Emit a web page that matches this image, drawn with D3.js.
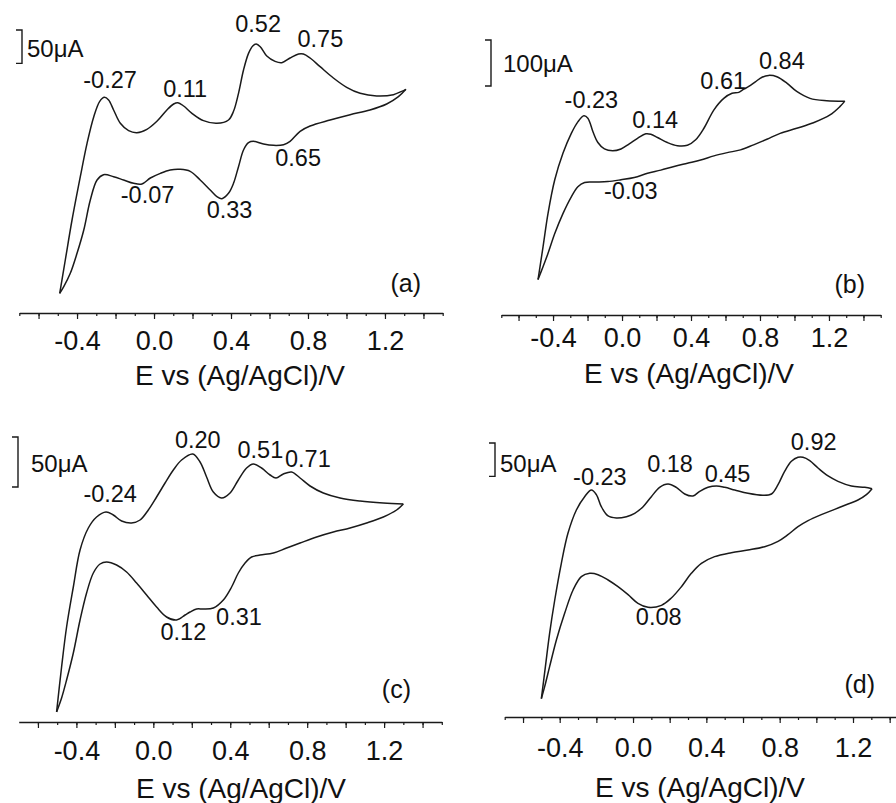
<!DOCTYPE html>
<html>
<head>
<meta charset="utf-8">
<script src="https://cdn.jsdelivr.net/npm/d3@7"></script>
<style>
  body { margin: 0; background: #fff; }
  svg { display: block; font-family: "Liberation Sans", Arial, sans-serif; }
  .cv { fill: none; stroke: #1a1a1a; stroke-width: 1.5; }
  .axis path, .axis line { stroke: #1a1a1a; }
  .axis path { stroke-width: 1.5; }
  .axis line { stroke-width: 1.2; }
  .axis text { font-size: 27px; fill: #111; }
  .lbl { fill: #111; }
</style>
</head>
<body>
<svg id="myGraph" width="896" height="803"></svg>
<script>
// 데이터: 전위(V) / 전류(µA), 정방향(anodic) 과 역방향(cathodic)
var aFwdE = [-0.490,-0.461,-0.426,-0.383,-0.348,-0.313,-0.282,-0.258,-0.236,-0.210,-0.175,-0.132,-0.089,-0.037,0.015,0.067,0.102,0.124,0.154,0.197,0.257,0.327,0.387,0.413,0.439,0.465,0.491,0.513,0.531,0.552,0.586,0.629,0.664,0.707,0.751,0.776,0.811,0.863,0.932,1.001,1.071,1.157,1.244,1.287,1.309];
var aFwdI = [-140,-90,-30,35,85,125,148,154,150,135,115,104,101,106,118,135,144,146,141,130,119,115,120,133,160,195,220,231,234,230,216,208,206,213,219,219,213,200,183,169,160,156,158,163,166];
var aRevE = [1.309,1.270,1.209,1.122,1.019,0.915,0.811,0.759,0.707,0.673,0.621,0.569,0.517,0.491,0.465,0.439,0.413,0.387,0.353,0.327,0.292,0.240,0.188,0.136,0.084,0.033,-0.019,-0.063,-0.106,-0.158,-0.210,-0.262,-0.296,-0.331,-0.365,-0.400,-0.435,-0.469,-0.490];
var aRevI = [166,155,144,135,128,120,111,103,88,83,82,84,88,86,75,50,25,10,2,5,15,30,43,46,45,40,33,24,25,30,35,38,30,0,-45,-80,-110,-130,-140];

var bFwdE = [-0.487,-0.458,-0.429,-0.390,-0.342,-0.294,-0.256,-0.221,-0.198,-0.169,-0.140,-0.102,-0.054,-0.006,0.042,0.090,0.138,0.167,0.206,0.263,0.321,0.379,0.427,0.475,0.533,0.590,0.638,0.677,0.706,0.735,0.773,0.812,0.850,0.898,0.956,1.013,1.090,1.187,1.292];
var bFwdI = [-173,-102,-29,44,102,145,170,183,178,149,125,111,107,111,122,134,144,143,136,125,118,119,131,156,196,221,232,234,241,247,257,267,271,268,254,236,221,216,215];
var bRevE = [1.292,1.263,1.206,1.110,1.013,0.917,0.840,0.763,0.687,0.610,0.533,0.456,0.379,0.302,0.225,0.148,0.071,-0.006,-0.083,-0.160,-0.217,-0.256,-0.294,-0.342,-0.390,-0.429,-0.458,-0.487];
var bRevI = [215,203,185,168,156,145,132,120,109,103,96,87,80,73,65,58,49,44,40,39,38,29,7,-29,-73,-116,-145,-173];

var cFwdE = [-0.503,-0.477,-0.451,-0.416,-0.381,-0.338,-0.295,-0.246,-0.208,-0.165,-0.113,-0.069,-0.026,0.017,0.061,0.104,0.147,0.205,0.243,0.277,0.312,0.355,0.399,0.442,0.485,0.520,0.563,0.607,0.638,0.676,0.719,0.763,0.815,0.884,0.971,1.075,1.196,1.300];
var cFwdI = [-112,-67,-27,13,50,72,83,88,85,79,77,80,90,103,117,130,140,146,138,123,108,102,107,120,132,136,132,125,122,126,128,122,114,107,102,99,97,96];
var cRevE = [1.300,1.265,1.196,1.109,1.023,0.936,0.849,0.763,0.693,0.624,0.555,0.511,0.477,0.442,0.407,0.364,0.312,0.260,0.225,0.191,0.165,0.121,0.069,0.017,-0.035,-0.087,-0.139,-0.191,-0.243,-0.277,-0.312,-0.347,-0.381,-0.416,-0.451,-0.477,-0.503];
var cRevI = [96,90,83,77,72,68,63,57,52,47,45,43,37,27,13,0,-8,-9,-9,-12,-15,-20,-17,-7,5,17,28,35,38,36,27,7,-20,-53,-80,-98,-112];

var dFwdE = [-0.500,-0.478,-0.455,-0.427,-0.391,-0.355,-0.309,-0.264,-0.227,-0.200,-0.173,-0.136,-0.091,-0.036,0.009,0.055,0.100,0.145,0.191,0.236,0.282,0.327,0.364,0.409,0.455,0.500,0.555,0.627,0.709,0.755,0.791,0.827,0.864,0.900,0.927,0.964,1.009,1.064,1.118,1.191,1.264,1.304];
var dFwdI = [-148,-100,-50,0,55,100,135,155,165,158,140,126,123,125,130,140,155,169,174,169,159,156,163,169,171,169,165,160,157,159,173,193,208,214,214,209,198,186,178,171,169,167];
var dRevE = [1.304,1.273,1.227,1.173,1.100,1.027,0.955,0.900,0.845,0.791,0.718,0.627,0.536,0.445,0.373,0.318,0.264,0.209,0.155,0.082,0.027,-0.027,-0.082,-0.136,-0.191,-0.236,-0.282,-0.327,-0.373,-0.418,-0.455,-0.482,-0.500];
var dRevI = [167,158,150,144,136,128,119,110,98,88,80,75,71,65,55,40,20,3,-8,-11,-5,8,20,30,38,40,35,15,-20,-60,-100,-130,-148];

// 피크 전위와 그 위치의 전류
var aPeakE = [-0.27, 0.11, 0.52, 0.75, 0.65, -0.07, 0.33];
var aPeakI = [154, 146, 234, 219, 82, 24, 2];
var bPeakE = [-0.23, 0.14, 0.61, 0.84, -0.03];
var bPeakI = [183, 144, 232, 271, 43];
var cPeakE = [-0.24, 0.20, 0.51, 0.71, 0.12, 0.31];
var cPeakI = [88, 146, 136, 128, -20, -8];
var dPeakE = [-0.23, 0.18, 0.45, 0.92, 0.08];
var dPeakI = [165, 174, 171, 214, -11];

var panelNames = ["(a)", "(b)", "(c)", "(d)"];
var scaleBars = [50, 100, 50, 50];          // µA
var xTickLabels = [-0.4, 0.0, 0.4, 0.8, 1.2];
var xTitle = "E vs (Ag/AgCl)/V";

// 패널 레이아웃 (픽셀)
var layout = [
  { ox: 0,   oy: 0,   xr: [19.3, 442.7], yd: [-150, 250], yr: [300, 33.33], axisY: 313, tickBase: 37,
    title: [240, 385], letter: [421, 292], bar: [22, 30], barText: [27, 57], tickFrom: -0.7,
    off: [[8,-9],[10,-6],[4,-12],[22,-7],[19,21],[7,19],[12,19]] },
  { ox: 448, oy: 0,  xr: [53.3, 432.7], yd: [-200, 300], yr: [291.96, 62.06], axisY: 315, tickBase: 32,
    title: [241, 383], letter: [417, 293], bar: [43, 40], barText: [55, 72], tickFrom: -0.7,
    off: [[9,-8],[9,-6],[-4,-4],[15,-6],[14,19]] },
  { ox: 0,   oy: 400, xr: [18.7, 441.8], yd: [-150, 200], yr: [350, 0], axisY: 322, tickBase: 38,
    title: [241, 398], letter: [411, 298], bar: [18, 37], barText: [31, 72], tickFrom: -0.6,
    off: [[3,-10],[6,-6],[9,-6],[18,-5],[7,20],[26,17]] },
  { ox: 448, oy: 400, xr: [56.7, 460], yd: [-150, 250], yr: [300, 33.33], axisY: 317, tickBase: 40,
    title: [252, 397], letter: [427, 293], bar: [47, 43], barText: [52, 72], tickFrom: -0.7,
    off: [[9,-5],[4,-12],[12,-4],[12,-7],[11,18]] }
];

var scans = [
  [[aFwdE, aFwdI], [aRevE, aRevI]],
  [[bFwdE, bFwdI], [bRevE, bRevI]],
  [[cFwdE, cFwdI], [cRevE, cRevI]],
  [[dFwdE, dFwdI], [dRevE, dRevI]]
];
var peaks = [[aPeakE, aPeakI], [bPeakE, bPeakI], [cPeakE, cPeakI], [dPeakE, dPeakI]];

var svg = d3.select("#myGraph");

layout.forEach(function(L, p){
  var g = svg.append("g").attr("transform", "translate(" + L.ox + "," + L.oy + ")");
  var x = d3.scaleLinear().domain([-0.7, 1.5]).range(L.xr);
  var y = d3.scaleLinear().domain(L.yd).range(L.yr);

  // 눈금값
  var minor = d3.range(Math.round(L.tickFrom * 10), 16).map(function(v){ return v / 10; });
  var major = minor.filter(function(v){ return Math.round(v * 10) % 2 === 0; });

  var gAx = g.append("g").attr("class", "axis").attr("transform", "translate(0," + L.axisY + ")");
  gAx.call(d3.axisBottom(x).tickValues(minor).tickSize(3).tickSizeOuter(0).tickFormat(""));
  gAx.append("g").call(d3.axisBottom(x).tickValues(major).tickSize(6).tickSizeOuter(0)
      .tickPadding(L.tickBase - 6 - 19)
      .tickFormat(function(d){
        return xTickLabels.some(function(t){ return Math.abs(t - d) < 1e-6; }) ? d.toFixed(1) : "";
      }))
    .select(".domain").remove();
  gAx.selectAll("text").attr("font-family", null).attr("font-size", null);

  // 축 제목
  g.append("text").attr("class", "lbl")
    .attr("x", L.title[0]).attr("y", L.title[1])
    .attr("text-anchor", "middle").attr("font-size", 28)
    .text(xTitle);

  // CV 곡선 (정방향, 역방향)
  var line = d3.line()
    .x(function(d){ return x(d[0]); })
    .y(function(d){ return y(d[1]); })
    .curve(d3.curveCatmullRom.alpha(0.5));
  g.selectAll("path.cv").data(scans[p]).enter()
    .append("path").attr("class", "cv")
    .attr("d", function(s){ return line(d3.zip(s[0], s[1])); });

  // 피크 라벨
  var pk = d3.zip(peaks[p][0], peaks[p][1]);
  g.selectAll("text.peak").data(pk).enter()
    .append("text").attr("class", "lbl peak")
    .attr("x", function(d, i){ return x(d[0]) + L.off[i][0]; })
    .attr("y", function(d, i){ return y(d[1]) + L.off[i][1]; })
    .attr("text-anchor", "middle").attr("font-size", 23.5)
    .text(function(d){ return d[0].toFixed(2); });

  // 스케일 바
  var h = y(0) - y(scaleBars[p]);
  g.append("path")
    .attr("d", "M" + (L.bar[0] - 6) + "," + L.bar[1] + "H" + L.bar[0] + "V" + (L.bar[1] + h) + "H" + (L.bar[0] - 6))
    .attr("fill", "none").attr("stroke", "#1a1a1a").attr("stroke-width", 1.4);
  g.append("text").attr("class", "lbl")
    .attr("x", L.barText[0]).attr("y", L.barText[1])
    .attr("font-size", 24)
    .text(scaleBars[p] + "\u03bcA");

  // 패널 이름
  g.append("text").attr("class", "lbl")
    .attr("x", L.letter[0]).attr("y", L.letter[1])
    .attr("text-anchor", "end").attr("font-size", 25)
    .text(panelNames[p]);
});
</script>
</body>
</html>
